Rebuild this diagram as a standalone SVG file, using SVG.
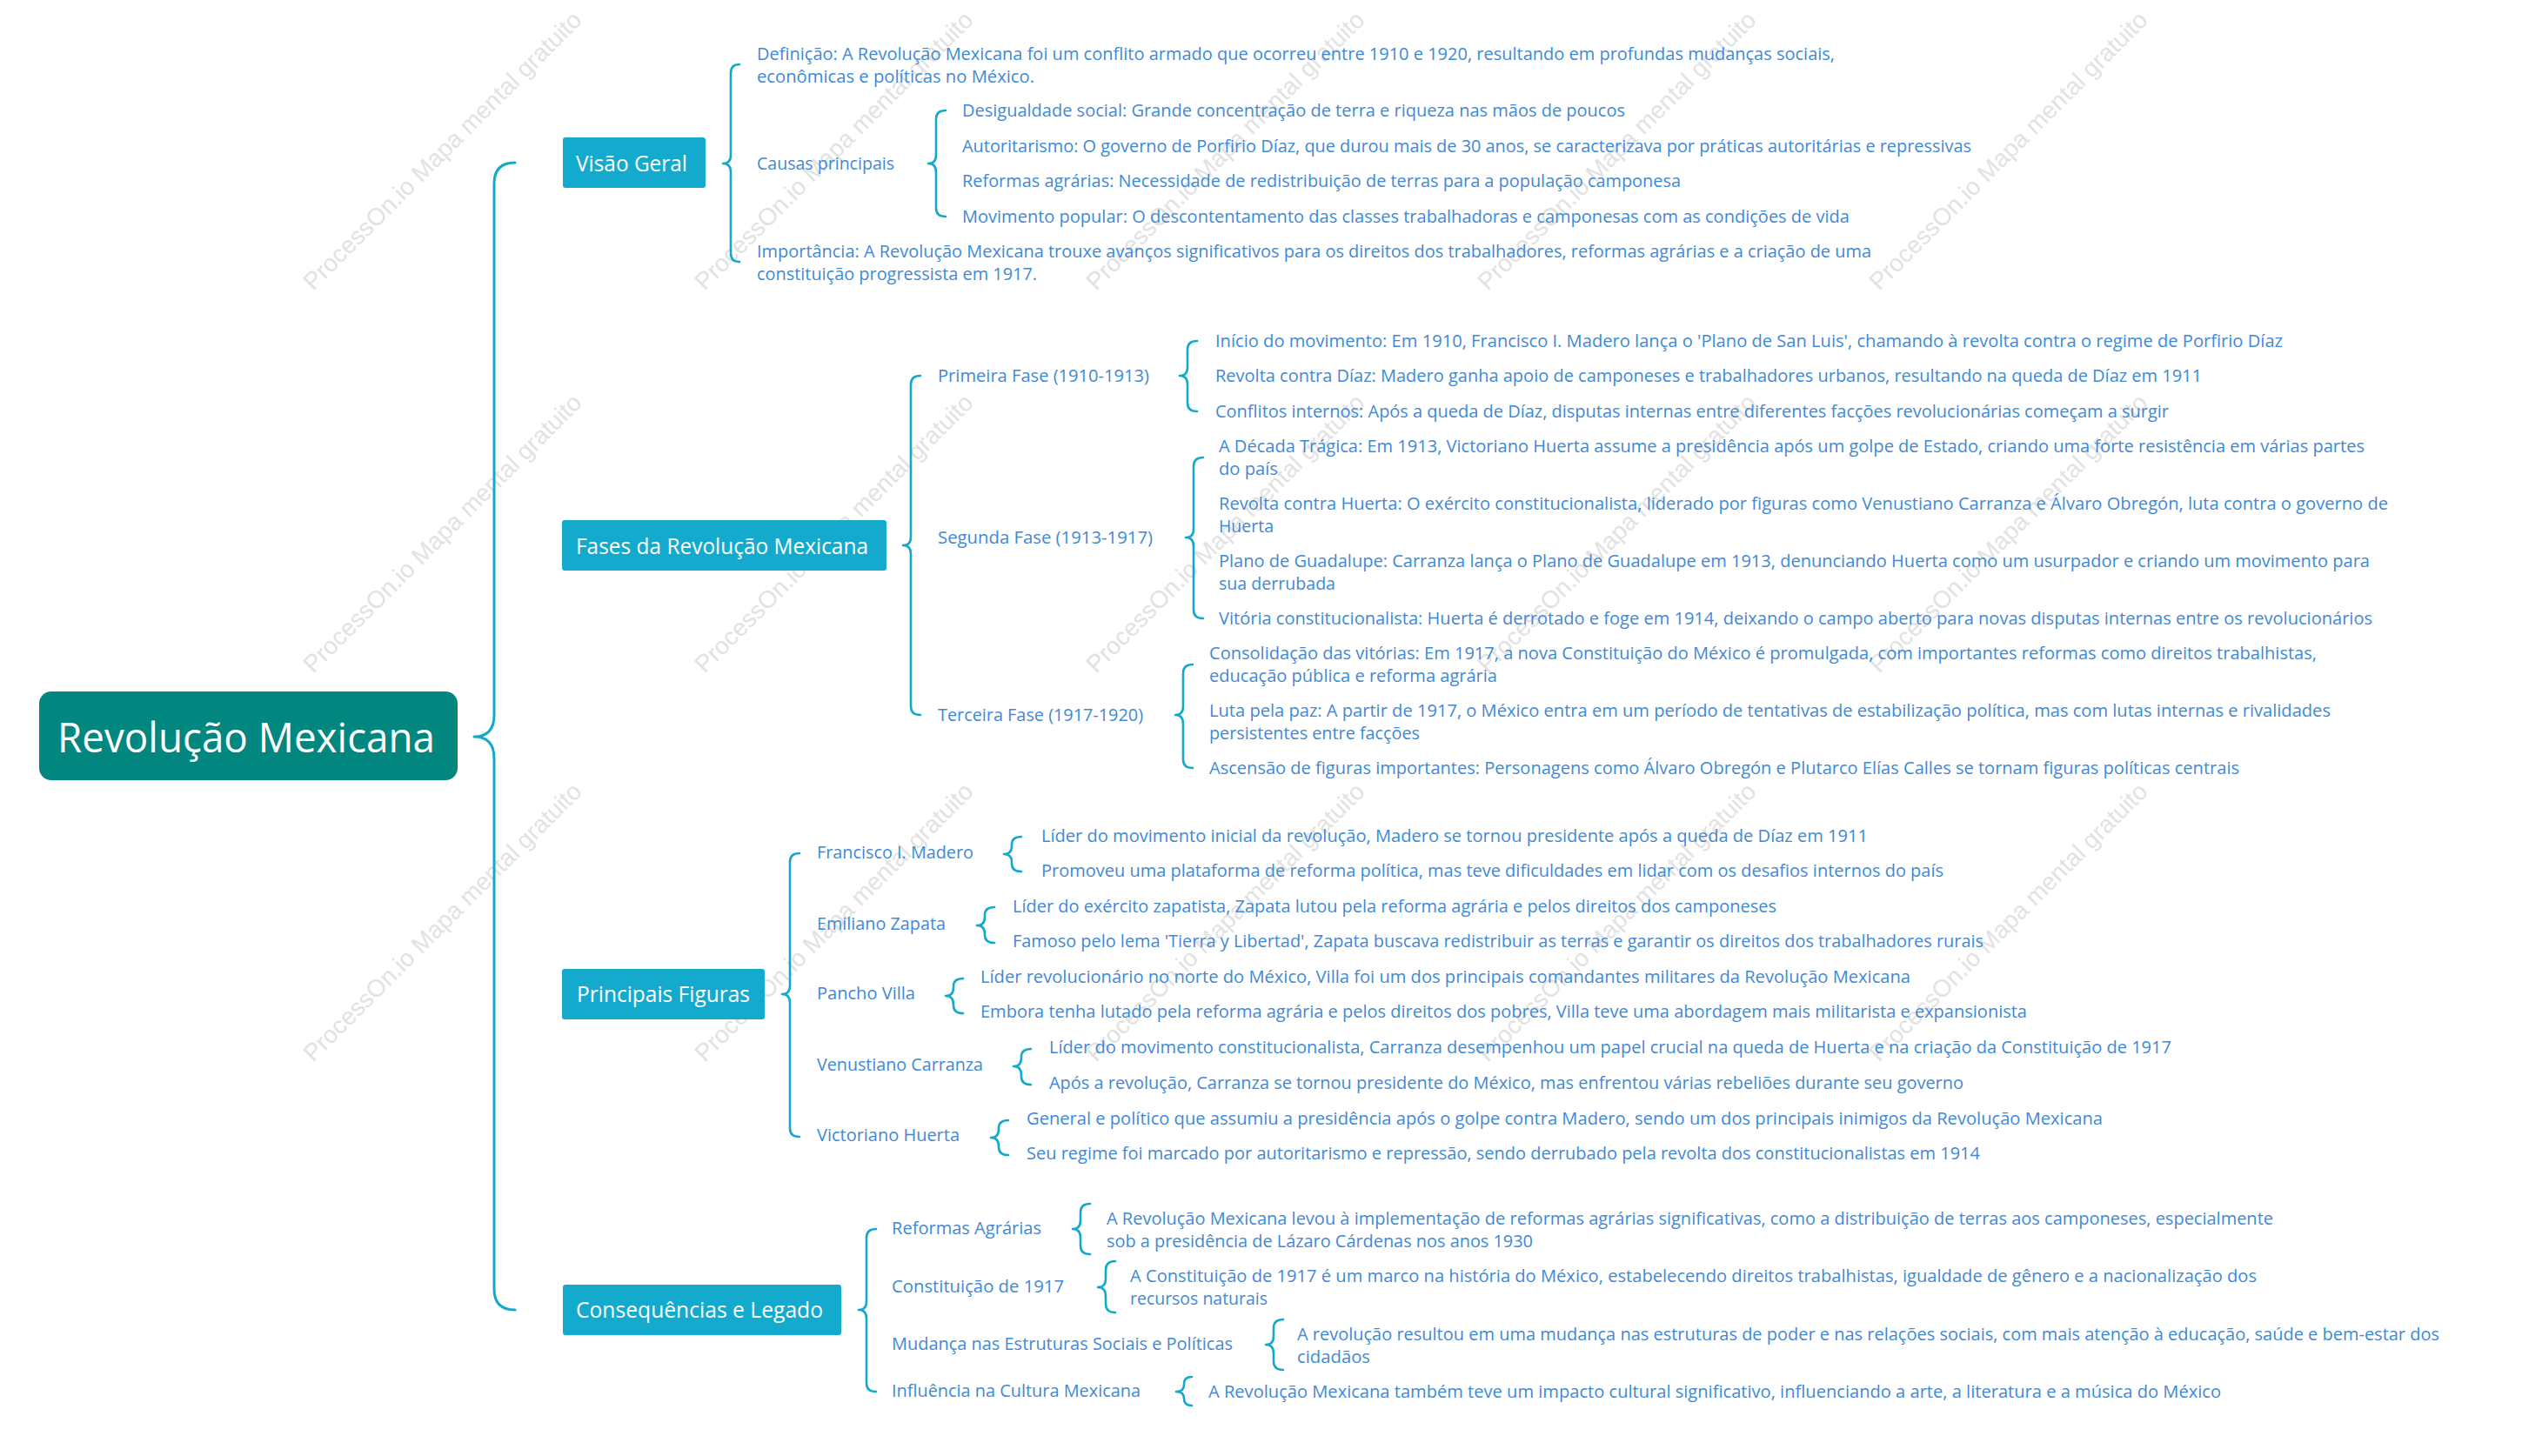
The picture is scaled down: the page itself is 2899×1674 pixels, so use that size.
<svg xmlns="http://www.w3.org/2000/svg" width="2899" height="1674" viewBox="0 0 2899 1674">
<style>
.wm{font-family:"Liberation Sans",Arial,sans-serif;font-size:28px;fill:#e2e2e2}
.t{font-family:"Open Sans","Noto Sans",sans-serif;font-size:19.5px;fill:#3f89d5}
.b{font-family:"Open Sans","Noto Sans",sans-serif;font-size:26px;fill:#ffffff}
.r{font-family:"Open Sans","Noto Sans",sans-serif;font-size:47px;fill:#ffffff}
.box{fill:#13aacd}
.br{fill:none;stroke:#13a9cc;stroke-width:2.6;stroke-linecap:round;stroke-linejoin:round}
.main{stroke-width:3}
</style>
<rect x="0" y="0" width="2899" height="1674" fill="#ffffff"/>
<g id="watermark">
<text class="wm" transform="translate(360,335) rotate(-45)">ProcessOn.io Mapa mental gratuito</text>
<text class="wm" transform="translate(810,335) rotate(-45)">ProcessOn.io Mapa mental gratuito</text>
<text class="wm" transform="translate(1260,335) rotate(-45)">ProcessOn.io Mapa mental gratuito</text>
<text class="wm" transform="translate(1710,335) rotate(-45)">ProcessOn.io Mapa mental gratuito</text>
<text class="wm" transform="translate(2160,335) rotate(-45)">ProcessOn.io Mapa mental gratuito</text>
<text class="wm" transform="translate(360,775) rotate(-45)">ProcessOn.io Mapa mental gratuito</text>
<text class="wm" transform="translate(810,775) rotate(-45)">ProcessOn.io Mapa mental gratuito</text>
<text class="wm" transform="translate(1260,775) rotate(-45)">ProcessOn.io Mapa mental gratuito</text>
<text class="wm" transform="translate(1710,775) rotate(-45)">ProcessOn.io Mapa mental gratuito</text>
<text class="wm" transform="translate(2160,775) rotate(-45)">ProcessOn.io Mapa mental gratuito</text>
<text class="wm" transform="translate(360,1222) rotate(-45)">ProcessOn.io Mapa mental gratuito</text>
<text class="wm" transform="translate(810,1222) rotate(-45)">ProcessOn.io Mapa mental gratuito</text>
<text class="wm" transform="translate(1260,1222) rotate(-45)">ProcessOn.io Mapa mental gratuito</text>
<text class="wm" transform="translate(1710,1222) rotate(-45)">ProcessOn.io Mapa mental gratuito</text>
<text class="wm" transform="translate(2160,1222) rotate(-45)">ProcessOn.io Mapa mental gratuito</text>
</g>
<g id="connectors">
<path class="br main" d="M592,187 Q568,187 568,211 L568,822 Q568,847 545,847 Q568,847 568,872 L568,1482 Q568,1506 592,1506"/>
<path class="br" d="M850,74 Q840,74 840,84 L840,178 Q840,188 831,188 Q840,188 840,198 L840,291 Q840,301 850,301"/>
<path class="br" d="M1087,127 Q1076,127 1076,137 L1076,178 Q1076,188 1067,188 Q1076,188 1076,198 L1076,239 Q1076,249 1087,249"/>
<path class="br" d="M1058,432 Q1047,432 1047,442 L1047,617 Q1047,627 1038,627 Q1047,627 1047,637 L1047,812 Q1047,822 1058,822"/>
<path class="br" d="M1376,392 Q1365,392 1365,402 L1365,422 Q1365,432 1356,432 Q1365,432 1365,442 L1365,463 Q1365,473 1376,473"/>
<path class="br" d="M1383,526 Q1372,526 1372,536 L1372,608 Q1372,618 1363,618 Q1372,618 1372,628 L1372,701 Q1372,711 1383,711"/>
<path class="br" d="M1371,764 Q1360,764 1360,774 L1360,812 Q1360,822 1351,822 Q1360,822 1360,832 L1360,873 Q1360,883 1371,883"/>
<path class="br" d="M919,981 Q908,981 908,991 L908,1133 Q908,1143 899,1143 Q908,1143 908,1153 L908,1297 Q908,1307 919,1307"/>
<path class="br" d="M1174,962 Q1163,962 1163,971 L1163,973 Q1163,982 1154,982 Q1163,982 1163,991 L1163,993 Q1163,1002 1174,1002"/>
<path class="br" d="M1143,1043 Q1132,1043 1132,1052 L1132,1054 Q1132,1064 1123,1064 Q1132,1064 1132,1074 L1132,1075 Q1132,1084 1143,1084"/>
<path class="br" d="M1107,1125 Q1096,1125 1096,1134 L1096,1135 Q1096,1145 1087,1145 Q1096,1145 1096,1155 L1096,1156 Q1096,1165 1107,1165"/>
<path class="br" d="M1185,1206 Q1174,1206 1174,1215 L1174,1216 Q1174,1226 1165,1226 Q1174,1226 1174,1236 L1174,1238 Q1174,1247 1185,1247"/>
<path class="br" d="M1159,1288 Q1148,1288 1148,1297 L1148,1298 Q1148,1308 1139,1308 Q1148,1308 1148,1318 L1148,1319 Q1148,1328 1159,1328"/>
<path class="br" d="M1007,1413 Q996,1413 996,1423 L996,1496 Q996,1506 987,1506 Q996,1506 996,1516 L996,1590 Q996,1600 1007,1600"/>
<path class="br" d="M1253,1384 Q1242,1384 1242,1394 L1242,1403 Q1242,1413 1233,1413 Q1242,1413 1242,1423 L1242,1432 Q1242,1442 1253,1442"/>
<path class="br" d="M1282,1450 Q1271,1450 1271,1460 L1271,1470 Q1271,1480 1262,1480 Q1271,1480 1271,1490 L1271,1499 Q1271,1509 1282,1509"/>
<path class="br" d="M1475,1517 Q1464,1517 1464,1527 L1464,1536 Q1464,1546 1455,1546 Q1464,1546 1464,1556 L1464,1565 Q1464,1575 1475,1575"/>
<path class="br" d="M1370,1583 Q1361,1583 1361,1591 L1361,1592 Q1361,1600 1352,1600 Q1361,1600 1361,1608 L1361,1608 Q1361,1616 1370,1616"/>
</g>
<g id="node-root">
<rect x="45" y="795" width="481" height="102" rx="14" fill="#028680"/>
<text class="r" x="66" y="865" textLength="434" lengthAdjust="spacingAndGlyphs">Revolução Mexicana</text>
</g>
<g id="node-visao-geral">
<rect class="box" x="647" y="158" width="164" height="58" rx="3"/>
<text class="b" x="662" y="197" textLength="128" lengthAdjust="spacingAndGlyphs">Visão Geral</text>
</g>
<g id="node-definicao">
<text class="t" x="870" y="69" textLength="1239" lengthAdjust="spacingAndGlyphs">Definição: A Revolução Mexicana foi um conflito armado que ocorreu entre 1910 e 1920, resultando em profundas mudanças sociais,</text>
<text class="t" x="870" y="95" textLength="319" lengthAdjust="spacingAndGlyphs">econômicas e políticas no México.</text>
</g>
<g id="node-causas">
<text class="t" x="870" y="195" textLength="158" lengthAdjust="spacingAndGlyphs">Causas principais</text>
</g>
<g id="node-desigualdade"><text class="t" x="1106" y="134" textLength="762" lengthAdjust="spacingAndGlyphs">Desigualdade social: Grande concentração de terra e riqueza nas mãos de poucos</text></g>
<g id="node-autoritarismo"><text class="t" x="1106" y="175" textLength="1160" lengthAdjust="spacingAndGlyphs">Autoritarismo: O governo de Porfirio Díaz, que durou mais de 30 anos, se caracterizava por práticas autoritárias e repressivas</text></g>
<g id="node-reformas-agrarias-causa"><text class="t" x="1106" y="215" textLength="826" lengthAdjust="spacingAndGlyphs">Reformas agrárias: Necessidade de redistribuição de terras para a população camponesa</text></g>
<g id="node-movimento"><text class="t" x="1106" y="256" textLength="1020" lengthAdjust="spacingAndGlyphs">Movimento popular: O descontentamento das classes trabalhadoras e camponesas com as condições de vida</text></g>
<g id="node-importancia">
<text class="t" x="870" y="296" textLength="1281" lengthAdjust="spacingAndGlyphs">Importância: A Revolução Mexicana trouxe avanços significativos para os direitos dos trabalhadores, reformas agrárias e a criação de uma</text>
<text class="t" x="870" y="322" textLength="322" lengthAdjust="spacingAndGlyphs">constituição progressista em 1917.</text>
</g>
<g id="node-fases">
<rect class="box" x="646" y="598" width="373" height="58" rx="3"/>
<text class="b" x="662" y="637" textLength="336" lengthAdjust="spacingAndGlyphs">Fases da Revolução Mexicana</text>
</g>
<g id="node-primeira"><text class="t" x="1078" y="439" textLength="243" lengthAdjust="spacingAndGlyphs">Primeira Fase (1910-1913)</text></g>
<g id="node-inicio"><text class="t" x="1397" y="399" textLength="1227" lengthAdjust="spacingAndGlyphs">Início do movimento: Em 1910, Francisco I. Madero lança o 'Plano de San Luis', chamando à revolta contra o regime de Porfirio Díaz</text></g>
<g id="node-revolta-diaz"><text class="t" x="1397" y="439" textLength="1134" lengthAdjust="spacingAndGlyphs">Revolta contra Díaz: Madero ganha apoio de camponeses e trabalhadores urbanos, resultando na queda de Díaz em 1911</text></g>
<g id="node-conflitos"><text class="t" x="1397" y="480" textLength="1096" lengthAdjust="spacingAndGlyphs">Conflitos internos: Após a queda de Díaz, disputas internas entre diferentes facções revolucionárias começam a surgir</text></g>
<g id="node-segunda"><text class="t" x="1078" y="625" textLength="247" lengthAdjust="spacingAndGlyphs">Segunda Fase (1913-1917)</text></g>
<g id="node-decada">
<text class="t" x="1401" y="520" textLength="1317" lengthAdjust="spacingAndGlyphs">A Década Trágica: Em 1913, Victoriano Huerta assume a presidência após um golpe de Estado, criando uma forte resistência em várias partes</text>
<text class="t" x="1401" y="546" textLength="68" lengthAdjust="spacingAndGlyphs">do país</text>
</g>
<g id="node-revolta-huerta">
<text class="t" x="1401" y="586" textLength="1344" lengthAdjust="spacingAndGlyphs">Revolta contra Huerta: O exército constitucionalista, liderado por figuras como Venustiano Carranza e Álvaro Obregón, luta contra o governo de</text>
<text class="t" x="1401" y="612" textLength="63" lengthAdjust="spacingAndGlyphs">Huerta</text>
</g>
<g id="node-plano">
<text class="t" x="1401" y="652" textLength="1323" lengthAdjust="spacingAndGlyphs">Plano de Guadalupe: Carranza lança o Plano de Guadalupe em 1913, denunciando Huerta como um usurpador e criando um movimento para</text>
<text class="t" x="1401" y="678" textLength="134" lengthAdjust="spacingAndGlyphs">sua derrubada</text>
</g>
<g id="node-vitoria"><text class="t" x="1401" y="718" textLength="1326" lengthAdjust="spacingAndGlyphs">Vitória constitucionalista: Huerta é derrotado e foge em 1914, deixando o campo aberto para novas disputas internas entre os revolucionários</text></g>
<g id="node-terceira"><text class="t" x="1078" y="829" textLength="236" lengthAdjust="spacingAndGlyphs">Terceira Fase (1917-1920)</text></g>
<g id="node-consolidacao">
<text class="t" x="1390" y="758" textLength="1273" lengthAdjust="spacingAndGlyphs">Consolidação das vitórias: Em 1917, a nova Constituição do México é promulgada, com importantes reformas como direitos trabalhistas,</text>
<text class="t" x="1390" y="784" textLength="331" lengthAdjust="spacingAndGlyphs">educação pública e reforma agrária</text>
</g>
<g id="node-luta">
<text class="t" x="1390" y="824" textLength="1289" lengthAdjust="spacingAndGlyphs">Luta pela paz: A partir de 1917, o México entra em um período de tentativas de estabilização política, mas com lutas internas e rivalidades</text>
<text class="t" x="1390" y="850" textLength="242" lengthAdjust="spacingAndGlyphs">persistentes entre facções</text>
</g>
<g id="node-ascensao"><text class="t" x="1390" y="890" textLength="1184" lengthAdjust="spacingAndGlyphs">Ascensão de figuras importantes: Personagens como Álvaro Obregón e Plutarco Elías Calles se tornam figuras políticas centrais</text></g>
<g id="node-principais">
<rect class="box" x="646" y="1114" width="233" height="58" rx="3"/>
<text class="b" x="663" y="1152" textLength="199" lengthAdjust="spacingAndGlyphs">Principais Figuras</text>
</g>
<g id="node-madero">
<text class="t" x="939" y="987" textLength="180" lengthAdjust="spacingAndGlyphs">Francisco I. Madero</text>
<text class="t" x="1197" y="968" textLength="950" lengthAdjust="spacingAndGlyphs">Líder do movimento inicial da revolução, Madero se tornou presidente após a queda de Díaz em 1911</text>
<text class="t" x="1197" y="1008" textLength="1037" lengthAdjust="spacingAndGlyphs">Promoveu uma plataforma de reforma política, mas teve dificuldades em lidar com os desafios internos do país</text>
</g>
<g id="node-zapata">
<text class="t" x="939" y="1069" textLength="148" lengthAdjust="spacingAndGlyphs">Emiliano Zapata</text>
<text class="t" x="1164" y="1049" textLength="878" lengthAdjust="spacingAndGlyphs">Líder do exército zapatista, Zapata lutou pela reforma agrária e pelos direitos dos camponeses</text>
<text class="t" x="1164" y="1089" textLength="1116" lengthAdjust="spacingAndGlyphs">Famoso pelo lema 'Tierra y Libertad', Zapata buscava redistribuir as terras e garantir os direitos dos trabalhadores rurais</text>
</g>
<g id="node-villa">
<text class="t" x="939" y="1149" textLength="113" lengthAdjust="spacingAndGlyphs">Pancho Villa</text>
<text class="t" x="1127" y="1130" textLength="1069" lengthAdjust="spacingAndGlyphs">Líder revolucionário no norte do México, Villa foi um dos principais comandantes militares da Revolução Mexicana</text>
<text class="t" x="1127" y="1170" textLength="1203" lengthAdjust="spacingAndGlyphs">Embora tenha lutado pela reforma agrária e pelos direitos dos pobres, Villa teve uma abordagem mais militarista e expansionista</text>
</g>
<g id="node-carranza">
<text class="t" x="939" y="1231" textLength="191" lengthAdjust="spacingAndGlyphs">Venustiano Carranza</text>
<text class="t" x="1206" y="1211" textLength="1290" lengthAdjust="spacingAndGlyphs">Líder do movimento constitucionalista, Carranza desempenhou um papel crucial na queda de Huerta e na criação da Constituição de 1917</text>
<text class="t" x="1206" y="1252" textLength="1051" lengthAdjust="spacingAndGlyphs">Após a revolução, Carranza se tornou presidente do México, mas enfrentou várias rebeliões durante seu governo</text>
</g>
<g id="node-huerta">
<text class="t" x="939" y="1312" textLength="164" lengthAdjust="spacingAndGlyphs">Victoriano Huerta</text>
<text class="t" x="1180" y="1293" textLength="1237" lengthAdjust="spacingAndGlyphs">General e político que assumiu a presidência após o golpe contra Madero, sendo um dos principais inimigos da Revolução Mexicana</text>
<text class="t" x="1180" y="1333" textLength="1096" lengthAdjust="spacingAndGlyphs">Seu regime foi marcado por autoritarismo e repressão, sendo derrubado pela revolta dos constitucionalistas em 1914</text>
</g>
<g id="node-consequencias">
<rect class="box" x="647" y="1477" width="320" height="58" rx="3"/>
<text class="b" x="662" y="1515" textLength="284" lengthAdjust="spacingAndGlyphs">Consequências e Legado</text>
</g>
<g id="node-reformas">
<text class="t" x="1025" y="1419" textLength="172" lengthAdjust="spacingAndGlyphs">Reformas Agrárias</text>
<text class="t" x="1272" y="1408" textLength="1341" lengthAdjust="spacingAndGlyphs">A Revolução Mexicana levou à implementação de reformas agrárias significativas, como a distribuição de terras aos camponeses, especialmente</text>
<text class="t" x="1272" y="1434" textLength="490" lengthAdjust="spacingAndGlyphs">sob a presidência de Lázaro Cárdenas nos anos 1930</text>
</g>
<g id="node-constituicao">
<text class="t" x="1025" y="1486" textLength="198" lengthAdjust="spacingAndGlyphs">Constituição de 1917</text>
<text class="t" x="1299" y="1474" textLength="1295" lengthAdjust="spacingAndGlyphs">A Constituição de 1917 é um marco na história do México, estabelecendo direitos trabalhistas, igualdade de gênero e a nacionalização dos</text>
<text class="t" x="1299" y="1500" textLength="158" lengthAdjust="spacingAndGlyphs">recursos naturais</text>
</g>
<g id="node-mudanca">
<text class="t" x="1025" y="1552" textLength="392" lengthAdjust="spacingAndGlyphs">Mudança nas Estruturas Sociais e Políticas</text>
<text class="t" x="1491" y="1541" textLength="1313" lengthAdjust="spacingAndGlyphs">A revolução resultou em uma mudança nas estruturas de poder e nas relações sociais, com mais atenção à educação, saúde e bem-estar dos</text>
<text class="t" x="1491" y="1567" textLength="84" lengthAdjust="spacingAndGlyphs">cidadãos</text>
</g>
<g id="node-influencia">
<text class="t" x="1025" y="1606" textLength="286" lengthAdjust="spacingAndGlyphs">Influência na Cultura Mexicana</text>
<text class="t" x="1389" y="1607" textLength="1164" lengthAdjust="spacingAndGlyphs">A Revolução Mexicana também teve um impacto cultural significativo, influenciando a arte, a literatura e a música do México</text>
</g>
</svg>
